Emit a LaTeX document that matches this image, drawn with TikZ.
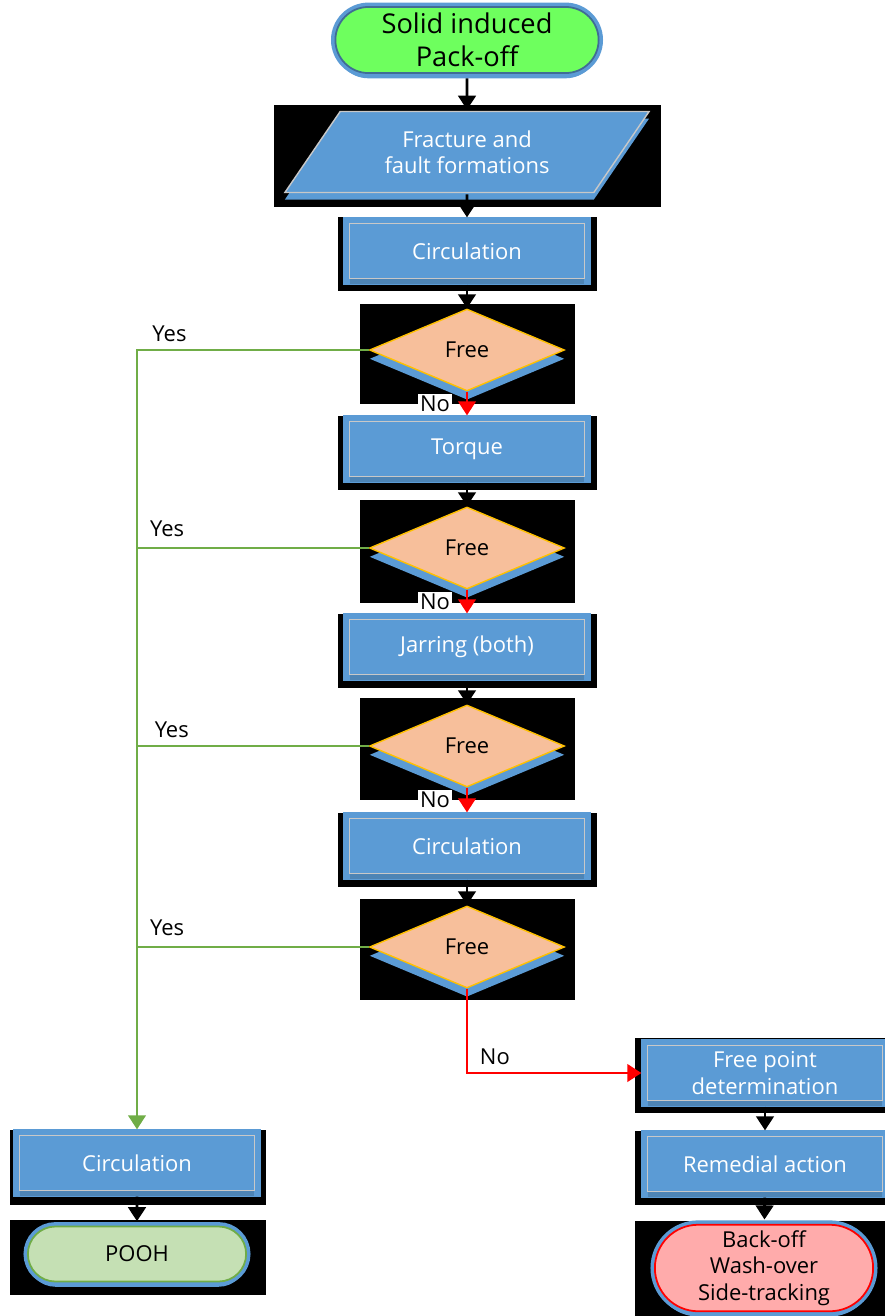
\documentclass[tikz,border=0pt]{standalone}
\usepackage{fontspec}
\setmainfont{Open Sans}
\usetikzlibrary{shapes.geometric,shapes.misc,shadows,arrows.meta}

\definecolor{boxblue}{HTML}{5B9BD5}
\definecolor{startgreen}{HTML}{6EFF5E}
\definecolor{peach}{HTML}{F7BF9B}
\definecolor{gold}{HTML}{FFC000}
\definecolor{poohgreen}{HTML}{C5E0B4}
\definecolor{yesgreen}{HTML}{70AD47}
\definecolor{pink}{HTML}{FFABAB}
\definecolor{frame}{HTML}{C8C8C8}

\tikzset{
  flowtext/.style={font=\fontsize{12.5}{15}\selectfont, align=center},
  stepbox/.style={flowtext, rectangle, text=white, fill=boxblue, draw=frame, line width=0.8pt,
    minimum width=4.7cm, minimum height=1.1cm, outer sep=3.5pt,
    preaction={draw=boxblue, line width=7pt, rounded corners=2pt},
    drop shadow={shadow xshift=0pt, shadow yshift=-3pt, fill=boxblue!85!black, opacity=1}},
  inputbox/.style={flowtext, trapezium, trapezium left angle=55, trapezium right angle=125,
    trapezium stretches=true, text=white, fill=boxblue, draw=frame, line width=0.8pt,
    minimum width=7.3cm, minimum height=1.62cm, outer sep=1pt,
    drop shadow={shadow xshift=0pt, shadow yshift=-4pt, fill=boxblue, opacity=1}},
  freebox/.style={flowtext, diamond, fill=peach, draw=gold, line width=0.8pt,
    minimum width=3.9cm, minimum height=1.64cm, inner sep=0pt,
    drop shadow={shadow xshift=0pt, shadow yshift=-5pt, fill=boxblue, opacity=1}},
  endbox/.style={flowtext, rounded rectangle, line width=1pt,
    minimum width=4.6cm, minimum height=1.1cm, outer sep=3pt,
    preaction={draw=boxblue, line width=5pt},
    drop shadow={shadow xshift=0pt, shadow yshift=-3pt, fill=boxblue, opacity=1}},
  flow/.style={line width=1.6pt, -{Triangle[width=10pt,length=8pt]}},
  yesline/.style={yesgreen, line width=1.4pt},
  noline/.style={red, line width=1.4pt, -{Triangle[width=10pt,length=8pt]}},
  answer/.style={text=black, font=\fontsize{12.5}{14}\selectfont, inner sep=1pt}
}

\begin{document}
\begin{tikzpicture}[x=0.02cm, y=-0.02cm]
  \useasboundingbox (0,0) rectangle (885,1316);

  %%%%% START %%%%%

  % black patches behind the shapes
  \foreach \xa/\ya/\xb/\yb in {274/105/661/207, 338/217/597/291, 360/304/575/404,
      338/416/597/490, 360/500/575/603, 338/614/597/688, 360/698/575/800,
      338/813/597/887, 360/899/575/1000, 635/1038/885/1113, 635/1131/885/1205,
      635/1221/885/1316, 10/1130/266/1205, 10/1220/266/1295}
    \fill[black] (\xa,\ya) rectangle (\xb,\yb);

  % main column
  \node[endbox, fill=startgreen, draw=boxblue!70!black, minimum width=5.5cm, minimum height=1.3cm,
    font=\fontsize{15.5}{19}\selectfont] (start) at (467,40) {Solid induced\\Pack-off};
  \node[inputbox] (frac) at (467,152) {Fracture and\\fault formations};
  \node[stepbox] (circA) at (467,251) {Circulation};
  \node[freebox] (free1) at (467,350) {Free};
  \node[stepbox] (torque) at (467,449) {Torque};
  \node[freebox] (free2) at (467,548) {Free};
  \node[stepbox] (jarring) at (467,647) {Jarring (both)};
  \node[freebox] (free3) at (467,746) {Free};
  \node[stepbox] (circB) at (467,846) {Circulation};
  \node[freebox] (free4) at (467,947) {Free};

  % right column
  \node[stepbox] (freepoint) at (765,1073) {Free point\\determination};
  \node[stepbox] (remedial) at (765,1164) {Remedial action};
  \node[endbox, fill=pink, draw=red, minimum height=1.62cm] (backoff) at (764,1268)
    {Back-off\\Wash-over\\Side-tracking};

  % left column
  \node[stepbox] (circL) at (137,1163) {Circulation};
  \node[endbox, fill=poohgreen, draw=yesgreen] (pooh) at (137,1254) {POOH};

  % straight down
  \draw[flow] (start) -- (frac);
  \draw[flow] (frac) -- (circA);
  \draw[flow] (circA) -- (free1);
  \draw[flow] (torque) -- (free2);
  \draw[flow] (jarring) -- (free3);
  \draw[flow] (circB) -- (free4);
  \draw[flow] (freepoint) -- (remedial);
  \draw[flow] (remedial) -- (backoff);
  \draw[flow] (circL) -- (pooh);

  % not free
  \draw[noline] (free1.south) -- node[answer, left=8pt, fill=white] {No} (torque);
  \draw[noline] (free2.south) -- node[answer, left=8pt, fill=white] {No} (jarring);
  \draw[noline] (free3.south) -- node[answer, left=8pt, fill=white] {No} (circB);
  \draw[noline] (free4.south) |- node[answer, pos=.58, above=3pt] {No} (freepoint.west);

  % free -> pull out
  \draw[yesline, -{Triangle[width=10pt,length=8pt]}] (free1.west)
    -| node[answer, pos=.43, above=3pt] {Yes} (circL.north);
  \draw[yesline] (free2.west) -- node[answer, pos=.87, above=5pt] {Yes} (free2.west -| circL.north);
  \draw[yesline] (free3.west) -- node[answer, pos=.85, above=3pt] {Yes} (free3.west -| circL.north);
  \draw[yesline] (free4.west) -- node[answer, pos=.87, above=5pt] {Yes} (free4.west -| circL.north);

  %%%%% END %%%%%
\end{tikzpicture}
\end{document}
